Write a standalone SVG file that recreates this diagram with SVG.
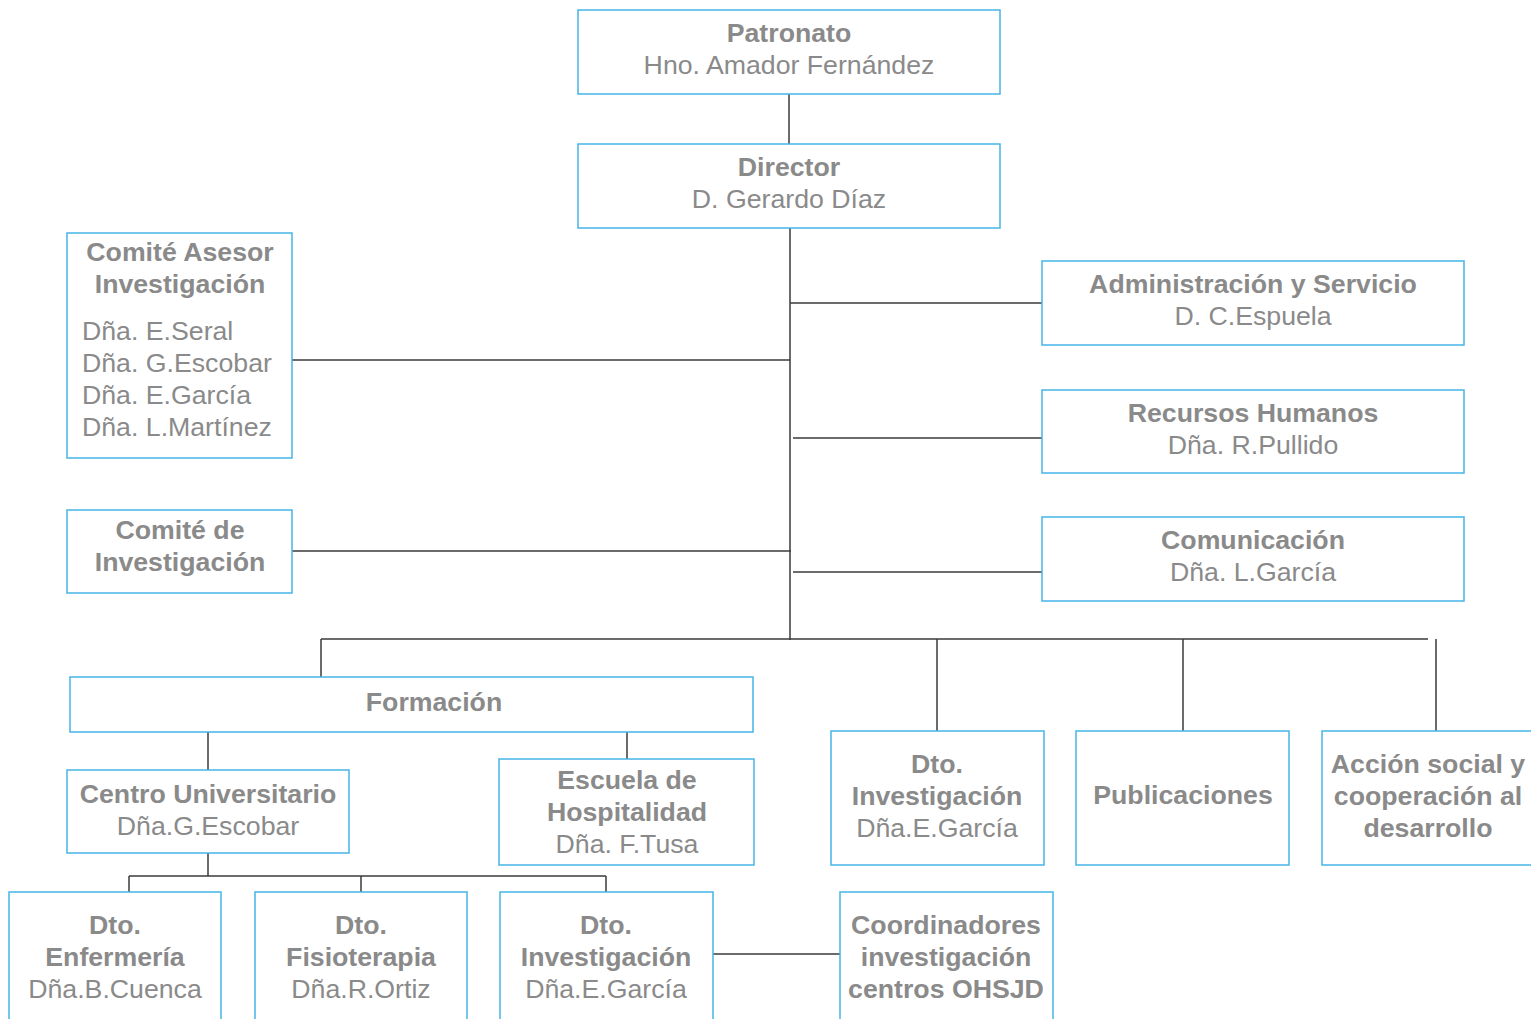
<svg xmlns="http://www.w3.org/2000/svg" width="1531" height="1019" viewBox="0 0 1531 1019">
<style>
.box{fill:#fff;stroke:#45b5e8;stroke-width:1.5}
.t{font-family:"Liberation Sans",Arial,sans-serif;font-size:26.7px;fill:#8a8a8a;text-anchor:middle}
.b{font-weight:bold}
.l{text-anchor:start}
.c{stroke:#3a3a3a;stroke-width:1.5;fill:none}
</style>
<rect width="1531" height="1019" fill="#fff"/>
<g id="connectors">
<line class="c" x1="789" y1="94" x2="789" y2="144"/>
<line class="c" x1="790" y1="228" x2="790" y2="640"/>
<line class="c" x1="292" y1="360" x2="790" y2="360"/>
<line class="c" x1="292" y1="551" x2="791" y2="551"/>
<line class="c" x1="790" y1="303" x2="1042" y2="303"/>
<line class="c" x1="793" y1="438" x2="1042" y2="438"/>
<line class="c" x1="793" y1="572" x2="1047" y2="572"/>
<line class="c" x1="321" y1="639" x2="1428" y2="639"/>
<line class="c" x1="321" y1="639" x2="321" y2="677"/>
<line class="c" x1="937" y1="639" x2="937" y2="731"/>
<line class="c" x1="1183" y1="639" x2="1183" y2="731"/>
<line class="c" x1="1436" y1="639" x2="1436" y2="731"/>
<line class="c" x1="208" y1="732" x2="208" y2="770"/>
<line class="c" x1="627" y1="732" x2="627" y2="759"/>
<line class="c" x1="208" y1="853" x2="208" y2="876"/>
<line class="c" x1="129" y1="876" x2="606" y2="876"/>
<line class="c" x1="129" y1="876" x2="129" y2="892"/>
<line class="c" x1="361" y1="876" x2="361" y2="892"/>
<line class="c" x1="606" y1="876" x2="606" y2="892"/>
<line class="c" x1="713" y1="954" x2="840" y2="954"/>
</g>
<g id="patronato">
<rect class="box" x="578" y="10" width="422" height="84"/>
<text class="t b" x="789" y="42">Patronato</text>
<text class="t" x="789" y="74">Hno. Amador Fernández</text>
</g>
<g id="director">
<rect class="box" x="578" y="144" width="422" height="84"/>
<text class="t b" x="789" y="176">Director</text>
<text class="t" x="789" y="208">D. Gerardo Díaz</text>
</g>
<g id="comite-asesor">
<rect class="box" x="67" y="233" width="225" height="225"/>
<text class="t b" x="180" y="261">Comité Asesor</text>
<text class="t b" x="180" y="293">Investigación</text>
<text class="t l" x="82" y="340">Dña. E.Seral</text>
<text class="t l" x="82" y="372">Dña. G.Escobar</text>
<text class="t l" x="82" y="404">Dña. E.García</text>
<text class="t l" x="82" y="436">Dña. L.Martínez</text>
</g>
<g id="comite-investigacion">
<rect class="box" x="67" y="510" width="225" height="83"/>
<text class="t b" x="180" y="539">Comité de</text>
<text class="t b" x="180" y="571">Investigación</text>
</g>
<g id="administracion">
<rect class="box" x="1042" y="261" width="422" height="84"/>
<text class="t b" x="1253" y="293">Administración y Servicio</text>
<text class="t" x="1253" y="325">D. C.Espuela</text>
</g>
<g id="rrhh">
<rect class="box" x="1042" y="390" width="422" height="83"/>
<text class="t b" x="1253" y="422">Recursos Humanos</text>
<text class="t" x="1253" y="454">Dña. R.Pullido</text>
</g>
<g id="comunicacion">
<rect class="box" x="1042" y="517" width="422" height="84"/>
<text class="t b" x="1253" y="549">Comunicación</text>
<text class="t" x="1253" y="581">Dña. L.García</text>
</g>
<g id="formacion">
<rect class="box" x="70" y="677" width="683" height="55"/>
<text class="t b" x="434" y="711">Formación</text>
</g>
<g id="centro-universitario">
<rect class="box" x="67" y="770" width="282" height="83"/>
<text class="t b" x="208" y="803">Centro Universitario</text>
<text class="t" x="208" y="835">Dña.G.Escobar</text>
</g>
<g id="escuela-hospitalidad">
<rect class="box" x="499" y="759" width="255" height="106"/>
<text class="t b" x="627" y="789">Escuela de</text>
<text class="t b" x="627" y="821">Hospitalidad</text>
<text class="t" x="627" y="853">Dña. F.Tusa</text>
</g>
<g id="dto-investigacion-1">
<rect class="box" x="831" y="731" width="213" height="134"/>
<text class="t b" x="937" y="773">Dto.</text>
<text class="t b" x="937" y="805">Investigación</text>
<text class="t" x="937" y="837">Dña.E.García</text>
</g>
<g id="publicaciones">
<rect class="box" x="1076" y="731" width="213" height="134"/>
<text class="t b" x="1183" y="804">Publicaciones</text>
</g>
<g id="accion-social">
<rect class="box" x="1322" y="731" width="215" height="134"/>
<text class="t b" x="1428" y="773">Acción social y</text>
<text class="t b" x="1428" y="805">cooperación al</text>
<text class="t b" x="1428" y="837">desarrollo</text>
</g>
<g id="dto-enfermeria">
<rect class="box" x="9" y="892" width="212" height="140"/>
<text class="t b" x="115" y="934">Dto.</text>
<text class="t b" x="115" y="966">Enfermería</text>
<text class="t" x="115" y="998">Dña.B.Cuenca</text>
</g>
<g id="dto-fisioterapia">
<rect class="box" x="255" y="892" width="212" height="140"/>
<text class="t b" x="361" y="934">Dto.</text>
<text class="t b" x="361" y="966">Fisioterapia</text>
<text class="t" x="361" y="998">Dña.R.Ortiz</text>
</g>
<g id="dto-investigacion-2">
<rect class="box" x="500" y="892" width="213" height="140"/>
<text class="t b" x="606" y="934">Dto.</text>
<text class="t b" x="606" y="966">Investigación</text>
<text class="t" x="606" y="998">Dña.E.García</text>
</g>
<g id="coordinadores">
<rect class="box" x="840" y="892" width="213" height="140"/>
<text class="t b" x="946" y="934">Coordinadores</text>
<text class="t b" x="946" y="966">investigación</text>
<text class="t b" x="946" y="998">centros OHSJD</text>
</g>
</svg>
